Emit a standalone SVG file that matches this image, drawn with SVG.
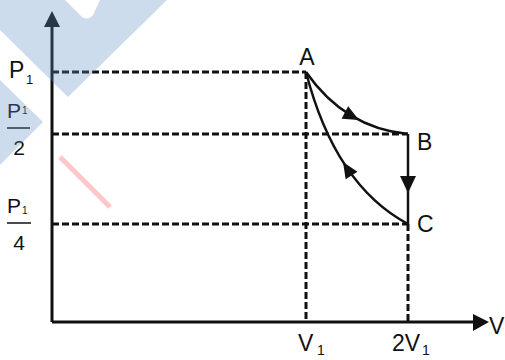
<svg xmlns="http://www.w3.org/2000/svg" width="505" height="360" viewBox="0 0 505 360">
<style>
text{font-family:"Liberation Sans",Arial,sans-serif;fill:#111}
.lbl{font-size:23px}
.frac{font-size:21px}
.sub{font-size:13px}
.sub2{font-size:10px}
.sub3{font-size:14px}
.axis{stroke:#111;stroke-width:3;fill:none}
.dash{stroke:#111;stroke-width:3;stroke-dasharray:7 3;fill:none}
.curve{stroke:#111;stroke-width:2.5;fill:none}
.head{fill:#111}
.fl{stroke:#111;stroke-width:1.5}
</style>
<rect width="505" height="360" fill="#fff"/>

<g id="axes">
  <line class="axis" x1="52" y1="322" x2="52" y2="26"/>
  <polygon class="head" points="52,11 44,27 60,27"/>
  <line class="axis" x1="52" y1="322" x2="474" y2="322"/>
  <polygon class="head" points="489,322 473,314 473,331"/>
  <text class="lbl" x="489" y="334">V</text>
</g>

<g id="guides">
  <line class="dash" x1="52" y1="72" x2="306" y2="72"/>
  <line class="dash" x1="52" y1="134" x2="408" y2="134"/>
  <line class="dash" x1="52" y1="224" x2="408" y2="224"/>
  <line class="dash" x1="306" y1="72" x2="306" y2="322"/>
  <line class="dash" x1="408" y1="224" x2="408" y2="322"/>
</g>

<g id="p-labels">
  <text class="lbl" x="9" y="78">P</text><text class="sub" x="26" y="84">1</text>
  <text class="frac" x="7" y="118">P</text><text class="sub2" x="22" y="114">1</text>
  <line class="fl" x1="7" y1="128" x2="30" y2="128"/>
  <text class="frac" x="19" y="155" text-anchor="middle">2</text>
  <text class="frac" x="7" y="213">P</text><text class="sub2" x="22" y="214">1</text>
  <line class="fl" x1="7" y1="223" x2="31" y2="223"/>
  <text class="frac" x="19" y="250" text-anchor="middle">4</text>
</g>

<g id="v-labels">
  <text class="lbl" x="298" y="351">V</text><text class="sub3" x="317" y="355">1</text>
  <text class="lbl" x="392" y="351">2V</text><text class="sub3" x="422" y="355">1</text>
</g>

<g id="node-A"><text class="lbl" x="307" y="65" text-anchor="middle">A</text></g>
<g id="node-B"><text class="lbl" x="417" y="150">B</text></g>
<g id="node-C"><text class="lbl" x="417" y="232">C</text></g>

<g id="connectors">
  <path class="curve" d="M306,72 Q345,128 408,134"/>
  <polygon class="head" points="0,0 -16,-7 -16,7" transform="translate(359,120) rotate(28)"/>
  <line class="curve" x1="408" y1="134" x2="408" y2="224"/>
  <polygon class="head" points="408,193 400,176 416,176"/>
  <path class="curve" d="M306,72 Q335,185 408,224"/>
  <polygon class="head" points="0,0 -16,-7 -16,7" transform="translate(343,162) rotate(-122.4)"/>
</g>

<g id="watermark" opacity="0.3">
  <path d="M0,0 L65,0 L82,17 Q88,21 93,15 L100,0 L167,0 L68,97 L0,30 Z" fill="#5d8fc1"/>
  <path d="M0,80 L43,122 L0,165 Z" fill="#5d8fc1"/>
  <line x1="60" y1="157" x2="110" y2="207" stroke="#ff4848" stroke-width="5"/>
</g>
</svg>
